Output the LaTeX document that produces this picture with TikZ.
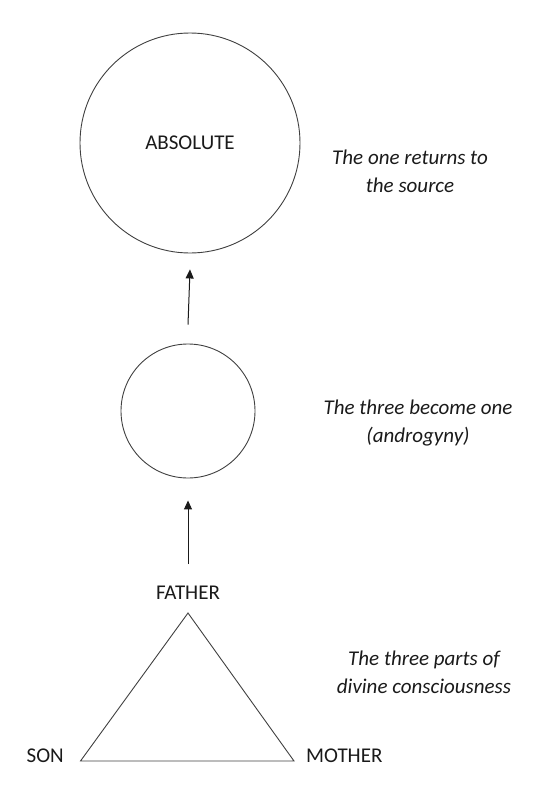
\documentclass[tikz,border=0pt]{standalone}
\usepackage{fontspec}
\setmainfont{Carlito}
\usetikzlibrary{arrows.meta}
\definecolor{ink}{HTML}{1A1A1A}
\definecolor{linec}{HTML}{404040}
\tikzset{
  ring/.style={circle, draw=linec, line width=0.9pt, inner sep=0pt},
  lbl/.style={text=ink, font=\fontsize{21}{28}\selectfont, inner sep=0pt},
  note/.style={text=ink, font=\fontsize{21}{28}\selectfont\itshape, align=center, inner sep=0pt},
  uparrow/.style={draw=ink, line width=1pt, -{Triangle[length=9pt,width=8pt]}},
  edge/.style={draw=linec, line width=0.9pt, line join=miter}
}
\begin{document}
\begin{tikzpicture}[x=1pt,y=-1pt]
\useasboundingbox (0,0) rectangle (544,800);
% circles
\node[ring, minimum size=220pt] (abs) at (190,143) {};
\node[lbl] (abstext) at (190,143) {ABSOLUTE};
\node[ring, minimum size=134pt] (one) at (188,411) {};
% triangle
\coordinate (apex) at (188,613);
\coordinate (sonc) at (80.5,761);
\coordinate (motc) at (294,761);
\draw[edge] (apex) -- (motc) -- (sonc) -- cycle;
% labels
\node[lbl] (father) at (188,593) {FATHER};
\node[lbl, anchor=east] (son) at (64,756) {SON};
\node[lbl, anchor=west] (mother) at (306,756) {MOTHER};
% arrows
\draw[uparrow] ([yshift=19pt]one.north) -- ([yshift=-16pt]abs.south);
\draw[uparrow] ([yshift=22pt]father.north) -- ([yshift=-22pt]one.south);
% notes
\node[note] (n1) at (410,171) {The one returns to\\the source};
\node[note] (n2) at (418,423) {The three become one\\(androgyny)};
\node[note] (n3) at (424,672) {The three parts of\\divine consciousness};
\end{tikzpicture}
\end{document}
